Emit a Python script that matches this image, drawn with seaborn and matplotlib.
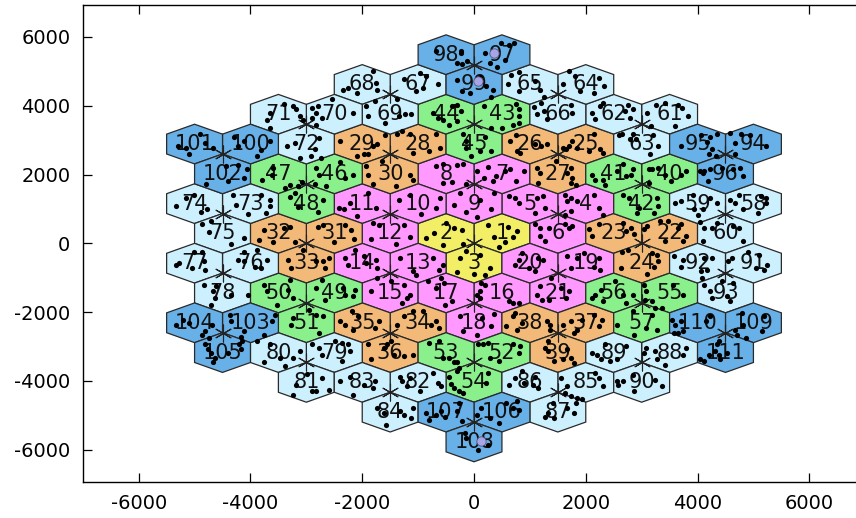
import numpy as np
import pandas as pd
import matplotlib
matplotlib.use("Agg")
import matplotlib.pyplot as plt
import seaborn as sns
from matplotlib.patches import RegularPolygon

# ---------------- data ----------------
# hexagonal lattice: rows (index k, top to bottom), first column index n (x = 500*n)
row_index = [6, 5, 4, 3, 2, 1, 0, -1, -2, -3, -4, -5, -6, -7]
row_first_col = [-1, -4, -7, -10, -9, -10, -9, -10, -9, -10, -9, -6, -3, 0]
row_cells = [
    [98, 97],
    [68, 67, 99, 65, 64],
    [71, 70, 69, 44, 43, 66, 62, 61],
    [101, 100, 72, 29, 28, 45, 26, 25, 63, 95, 94],
    [102, 47, 46, 30, 8, 7, 27, 41, 40, 96],
    [74, 73, 48, 11, 10, 9, 5, 4, 42, 59, 58],
    [75, 32, 31, 12, 2, 1, 6, 23, 22, 60],
    [77, 76, 33, 14, 13, 3, 20, 19, 24, 92, 91],
    [78, 50, 49, 15, 17, 16, 21, 56, 55, 93],
    [104, 103, 51, 35, 34, 18, 38, 37, 57, 110, 109],
    [105, 80, 79, 36, 53, 52, 39, 89, 88, 111],
    [81, 83, 82, 54, 86, 85, 90],
    [84, 107, 106, 87],
    [108],
]
# colour classes by cell number
class_upper = [3, 21, 39, 57, 93, 111]
class_colors = ["#f2ee66", "#ff98ff", "#f2b978", "#8af08c", "#cdf0ff", "#68b0e8"]

# scattered points: (cell, dx, dy) relative to the cell centre
dots = [
    (98, -180, 120), (98, 260, 50), (98, 200, -240), (98, 290, -270), (98, 380, -170), (98, 260, 120),
    (97, -310, 60), (97, -20, 330), (97, 130, 280), (97, 220, 350), (97, -220, -250), (97, -90, -350), (97, 50, -150),
    (99, -310, 140), (99, -220, -200), (99, -80, -250), (99, 100, 230), (99, 340, -160), (99, 310, -350), (99, 220, -50),
    (68, -340, -150), (68, -260, -100), (68, 190, 390), (68, 240, 50), (68, 270, -150), (68, -100, -240),
    (67, -260, 150), (67, 30, 340), (67, 90, -100), (67, -30, -190), (67, 350, 0), (67, 150, 250),
    (69, -430, 230), (69, -400, -60), (69, 150, -60), (69, 270, 0), (69, 380, 0), (69, 120, 430), (69, -280, 400), (69, -100, -250),
    (71, -150, 40), (71, -200, -160), (71, 260, 230), (71, 320, 140), (71, 380, -60), (71, 440, -160), (71, -150, -400), (71, 100, 300),
    (70, -390, 180), (70, -300, 230), (70, -330, 40), (70, -390, -110), (70, -220, -110), (70, 340, 40), (70, -330, -300), (70, -40, 430),
    (101, -300, -60), (101, -150, -100), (101, 190, 40), (101, 330, -100), (101, 100, 300), (101, -100, -300),
    (100, -220, -60), (100, -120, 100), (100, 350, 90), (100, 180, -160), (100, 120, -350), (100, -300, 200),
    (72, -210, 40), (72, -350, -60), (72, 230, 180), (72, 80, -350), (72, 260, -400), (72, -120, -400), (72, 150, -150),
    (29, 270, -10), (29, 190, -60), (29, 40, -300), (29, 100, -300), (29, -100, -350), (29, 400, 250), (29, -400, 100),
    (28, -380, 280), (28, -290, 380), (28, -150, 280), (28, 320, 280), (28, 200, -200), (28, -100, -250), (28, 400, -100),
    (102, 380, -120), (102, 430, 130), (102, 60, 220), (102, 270, 270), (102, 90, -210), (102, -300, -300),
    (47, -120, -20), (47, -90, 170), (47, 200, -310), (47, 120, -410), (47, 350, -350), (47, 420, -250), (47, -290, -170),
    (46, -330, 170), (46, -270, -20), (46, 190, -120), (46, 340, -20), (46, -150, -350), (46, -350, -300), (46, 100, 350),
    (30, -430, 220), (30, -400, -20), (30, -150, 380), (30, 350, -20), (30, 410, -170), (30, -300, -300), (30, 100, -350),
    (8, -180, 220), (8, -50, 300), (8, 200, 270), (8, -60, -260), (8, 100, -250), (8, 350, -300), (8, 300, 300),
    (74, -330, -80), (74, -10, 260), (74, 220, -170), (74, -150, 150), (74, 120, -250),
    (73, -310, 260), (73, 180, 260), (73, 350, 120), (73, 350, -80), (73, -250, -50), (73, 280, -280), (73, -50, -300),
    (48, -300, 200), (48, -200, 300), (48, -150, -100), (48, 200, -250), (48, 300, 100),
    (11, -420, -120), (11, -330, -150), (11, -220, 20), (11, 240, -120), (11, 100, 300), (11, -100, -350),
    (10, -150, 260), (10, -350, 100), (10, 320, -120), (10, 400, 150), (10, 50, -300),
    (75, -370, 260), (75, -200, 350), (75, -250, 50), (75, 380, -130), (75, 150, -300),
    (32, -250, 100), (32, 100, 150), (32, -350, -200), (32, -100, -250), (32, 300, -250), (32, 200, 200),
    (31, -200, 250), (31, -300, 200), (31, 200, 250), (31, 300, 100), (31, 350, -150), (31, 0, -250),
    (12, -300, 300), (12, -200, 250), (12, 250, 250), (12, 350, -100), (12, -350, -150), (12, 100, -300),
    (2, -210, 10), (2, 140, 160), (2, 280, 110), (2, -350, -130), (2, -50, -350), (2, 300, -300), (2, 0, 300),
    (1, -250, 250), (1, -150, -100), (1, 50, -250), (1, 200, -100), (1, 270, 60), (1, -50, -400), (1, 100, 200),
    (3, -250, 150), (3, -150, 350), (3, 100, 250), (3, 280, -150), (3, -300, -250), (3, 0, -300), (3, 200, -350),
    (9, -250, 300), (9, -350, -50), (9, -150, -250), (9, 100, 100), (9, 300, -150), (9, 50, -400), (9, 350, 300),
    (44, -240, 40), (44, -150, -110), (44, -60, -160), (44, 50, -300), (44, 200, 280), (44, 260, 90), (44, 200, -200), (44, 110, 230),
    (45, -200, 300), (45, -150, 100), (45, -150, -100), (45, 200, 200), (45, 300, -200), (45, -50, -350), (45, 100, -200),
    (65, -340, 290), (65, -200, 350), (65, 100, 100), (65, 180, -150), (65, 250, -350), (65, -200, -200), (65, -400, 0),
    (64, -400, 0), (64, -300, 400), (64, -200, 250), (64, -100, -200), (64, 230, 200), (64, 320, -50), (64, 150, -250),
    (43, -330, 230), (43, -200, -400), (43, 0, -400), (43, 250, 300), (43, 300, 150), (43, 300, -50), (43, 300, -250), (43, 200, -300),
    (66, -380, 0), (66, -430, 200), (66, -250, 100), (66, -200, -150), (66, 250, 50), (66, -300, 330), (66, 230, 280),
    (62, -380, 40), (62, -330, -150), (62, -250, 230), (62, -200, 330), (62, 200, 100), (62, 250, 280), (62, 300, -100), (62, 350, 150),
    (61, -400, 40), (61, -250, 280), (61, -80, 330), (61, 150, 280), (61, 220, 180), (61, 330, -60), (61, 100, -350), (61, -330, -350),
    (26, -250, 250), (26, -230, -200), (26, -170, -260), (26, 100, 0), (26, 200, -50), (26, 300, 0), (26, -350, 100),
    (25, -400, -100), (25, -350, -150), (25, -300, -50), (25, -250, 100), (25, -150, -100), (25, 50, -200), (25, 250, -150), (25, 150, 300), (25, 300, -250),
    (63, -400, 250), (63, -350, 300), (63, -200, 150), (63, -150, 300), (63, -100, 150), (63, 200, 250), (63, 300, -50), (63, 150, -300),
    (95, -300, -50), (95, 60, 250), (95, 170, 50), (95, 230, 200), (95, 260, -150), (95, 350, 300), (95, 200, -300), (95, 330, -350),
    (94, -330, 40), (94, -220, 300), (94, -70, 250), (94, 220, -50), (94, -420, 330), (94, -330, -300),
    (7, -450, 80), (7, -330, -120), (7, -160, -220), (7, -100, -70), (7, 50, 80), (7, 150, 130), (7, 390, 80), (7, 250, -220), (7, -250, 200),
    (27, -380, 170), (27, -320, 30), (27, 170, 30), (27, 230, 170), (27, 260, -120), (27, 230, -260), (27, 320, -310), (27, -350, -260), (27, -30, 380),
    (41, -390, -20), (41, -330, -170), (41, -190, -170), (41, -160, -310), (41, 50, 80), (41, 220, -70), (41, 310, -20), (41, 340, 130), (41, 160, 280),
    (40, -370, 130), (40, -310, 130), (40, -200, 170), (40, -80, -20), (40, 210, -20), (40, 300, 80), (40, 30, -210), (40, -370, -260),
    (96, -450, 80), (96, -410, 30), (96, -380, 80), (96, -270, 130), (96, -60, 170), (96, 140, 130), (96, 260, 170), (96, 310, -70), (96, -320, -210),
    (5, -370, 210), (5, -260, 170), (5, -200, 20), (5, 120, 170), (5, 240, 210), (5, 90, -270), (5, 270, -130),
    (4, -380, 260), (4, -330, 70), (4, -260, 170), (4, -150, 70), (4, 140, 260), (4, 230, -130), (4, 310, -320), (4, -260, -220), (4, -380, -320),
    (42, -340, 260), (42, -220, 170), (42, -50, -130), (42, -80, -270), (42, 270, 170), (42, 300, -80), (42, 220, -270),
    (59, -400, 20), (59, -290, 70), (59, -90, 260), (59, -60, -170), (59, 90, -170), (59, 230, 170), (59, 350, 20), (59, 0, -320),
    (58, -420, 120), (58, -330, 20), (58, -250, 260), (58, -190, -170), (58, 130, 210), (58, 220, 170), (58, 220, 20), (58, 80, -270),
    (6, -410, 260), (6, -320, 170), (6, -150, 170), (6, 120, 260), (6, 200, 170), (6, 260, 210), (6, -230, -220), (6, -320, -80),
    (23, -390, -80), (23, -450, 120), (23, -270, 260), (23, 160, 310), (23, 220, 70), (23, 360, -30), (23, 310, 170),
    (22, -450, 120), (22, -400, 210), (22, -170, 360), (22, -20, 360), (22, 150, 170), (22, 210, 260), (22, 300, -80), (22, 240, -220), (22, -80, -220),
    (60, -380, 170), (60, -450, 330), (60, -150, 310), (60, -240, 170), (60, 140, 210), (60, 250, 170), (60, -410, -220), (60, 310, -220),
    (77, -330, -50), (77, -270, 0), (77, -40, -150), (77, 160, 50), (77, 190, -190), (77, -10, 340), (77, 130, 340),
    (76, -230, 100), (76, -110, 50), (76, 90, -100), (76, 180, -150), (76, 300, 100), (76, -110, 340), (76, 120, 390),
    (33, -330, 100), (33, -270, -150), (33, 170, 50), (33, 290, 50), (33, 400, 150), (33, 340, -150), (33, -60, 390),
    (14, -310, 150), (14, -250, -50), (14, 40, 200), (14, 70, 0), (14, 250, 100), (14, 270, -150), (14, -130, 390),
    (13, -320, 150), (13, -90, -240), (13, -30, -340), (13, 260, 150), (13, 380, -190), (13, 440, -50),
    (78, -340, 240), (78, -170, 50), (78, -140, -150), (78, -110, 200), (78, 150, -50), (78, 450, -50), (78, -200, -340),
    (50, -260, 240), (50, -200, 50), (50, -30, -340), (50, 170, 100), (50, 260, -150), (50, 200, 390),
    (49, -330, 150), (49, -220, 390), (49, -160, -190), (49, 160, 150), (49, 190, -50), (49, 340, -100), (49, 370, 100),
    (15, -340, 50), (15, -230, 440), (15, 10, 340), (15, 240, 240), (15, 350, -50), (15, 300, -150), (15, 210, -290),
    (17, -330, 340), (17, -180, 150), (17, -90, 440), (17, -10, -340), (17, 110, -240), (17, -30, 290),
    (104, -330, -60), (104, -210, 90), (104, -100, 0), (104, 190, -250), (104, 130, -350), (104, 250, -450), (104, 310, -60),
    (103, -370, 240), (103, -340, 40), (103, -170, -400), (103, -110, -250), (103, 380, 40), (103, 440, 240), (103, 240, -350),
    (51, -270, -60), (51, -240, 140), (51, 50, 380), (51, 170, 240), (51, 230, -300), (51, 290, 190),
    (35, -400, 40), (35, -310, -60), (35, -160, -200), (35, -80, 190), (35, 220, -160), (35, 300, 40), (35, -190, 340),
    (34, -380, -60), (34, -260, 190), (34, -90, 340), (34, 230, -60), (34, 320, 40), (34, 380, -160), (34, 90, 340),
    (105, -320, 240), (105, -260, 90), (105, -200, -10), (105, -140, -160), (105, 90, -10), (105, 350, 340), (105, 300, 240), (105, 330, 90), (105, -170, -260),
    (80, -380, 340), (80, -260, -260), (80, -150, 240), (80, 30, -160), (80, 120, -400), (80, 260, -160), (80, 380, 40),
    (79, -390, 240), (79, -270, 140), (79, -220, -60), (79, 20, 340), (79, 130, 290), (79, 250, 240), (79, 280, 40), (79, 130, -250),
    (36, -400, 240), (36, -340, -200), (36, -110, 140), (36, -50, 240), (36, 60, -60), (36, 240, -110), (36, 410, -60), (36, 10, 340),
    (53, -300, 280), (53, -120, 330), (53, -60, -160), (53, 50, -160), (53, 140, -260), (53, 200, -260), (53, 230, -450),
    (81, -240, -360), (81, -180, -70), (81, 20, 230), (81, 110, -260), (81, 170, -260), (81, 400, -210), (81, 280, 130),
    (83, -400, 30), (83, -220, 170), (83, -160, -360), (83, 40, -70), (83, 190, -160), (83, 220, 30),
    (82, -320, 170), (82, -290, 30), (82, -200, -120), (82, -150, 130), (82, 260, 270), (82, 350, -20), (82, 410, -120), (82, 30, -260),
    (84, -230, 120), (84, -110, -30), (84, -80, -370), (84, 180, 20), (84, 240, -80), (84, 380, -180), (84, 410, 120),
    (107, -350, -30), (107, -300, -230), (107, -180, -80), (107, -90, 20), (107, -10, -130), (107, 200, 20), (107, 280, -270), (107, 230, 270),
    (20, -260, -50), (20, -200, 100), (20, -20, -150), (20, 150, 150), (20, 240, 100), (20, -140, 300), (20, 90, -240),
    (19, -330, 200), (19, -270, -150), (19, -150, 150), (19, 140, -100), (19, 230, 150), (19, 260, -190), (19, -30, 300),
    (24, -360, 340), (24, -250, 390), (24, 190, 300), (24, 270, 240), (24, 220, -100), (24, 300, 50), (24, -370, -150), (24, 100, -300),
    (92, -430, 200), (92, -290, -100), (92, -260, 100), (92, 120, 150), (92, 260, 150), (92, 60, -240), (92, 170, -200),
    (91, -450, 50), (91, -390, 150), (91, -100, 340), (91, 50, -150), (91, 190, -190), (91, 250, -50), (91, 100, 250),
    (16, -450, -50), (16, -400, 50), (16, -400, -150), (16, -370, 290), (16, -310, 240), (16, 130, -240), (16, 190, -290), (16, 300, -290),
    (21, -320, 190), (21, -380, -50), (21, -290, -190), (21, -150, -190), (21, 150, -150), (21, 200, 50), (21, -120, 440), (21, 60, 150),
    (56, -390, -150), (56, -330, -50), (56, -220, 100), (56, -190, -240), (56, 160, -50), (56, 220, -290), (56, 340, -50), (56, 20, 340),
    (55, -450, 240), (55, -430, 50), (55, -440, -190), (55, -310, -240), (55, -140, -440), (55, 60, 240), (55, 240, -50),
    (93, -420, 450), (93, -380, 240), (93, -270, 50), (93, -240, -150), (93, 20, -100), (93, 80, -240), (93, 140, 290), (93, -60, 340),
    (18, -250, 200), (18, 150, 150), (18, 300, -100), (18, -200, -250), (18, 50, -350), (18, 350, 250),
    (38, -310, 190), (38, -260, 290), (38, -230, -200), (38, -140, 0), (38, 300, 40), (38, 360, -60), (38, 360, -200), (38, -430, -100),
    (37, -410, -60), (37, -270, 40), (37, -150, -200), (37, -60, 90), (37, 140, 240), (37, 290, 90), (37, 230, -100), (37, -210, -300),
    (57, -450, -60), (57, -160, 340), (57, 70, -150), (57, 190, 240), (57, 270, -200), (57, 240, 440), (57, -130, -350),
    (110, -450, 90), (110, -410, -60), (110, -350, -300), (110, -260, -250), (110, -290, 40), (110, 150, 40), (110, 230, 190), (110, -420, -300),
    (109, -330, -200), (109, -300, -350), (109, -210, 290), (109, -130, -450), (109, 160, -250), (109, 190, 190), (109, -180, -60),
    (52, -420, 240), (52, -340, 240), (52, -250, 290), (52, 190, 240), (52, 300, -10), (52, 330, 190), (52, -50, -250), (52, -220, -160),
    (39, -230, 140), (39, -170, 40), (39, -60, -250), (39, 90, -200), (39, 170, 90), (39, 230, -160), (39, 290, -300), (39, -170, 340),
    (89, -390, -10), (89, -300, -60), (89, -220, -200), (89, -70, -250), (89, 50, -200), (89, 220, 190), (89, -160, 240),
    (88, -450, -10), (88, -430, 140), (88, -260, 40), (88, -230, -200), (88, -80, -350), (88, 300, 140), (88, 240, -60),
    (111, -450, -200), (111, -380, -250), (111, -300, -60), (111, -180, 40), (111, -120, -60), (111, -90, -200), (111, 20, -10), (111, -150, 240), (111, -120, 340),
    (54, -450, 170), (54, -300, 330), (54, -360, -170), (54, -270, -260), (54, -190, -310), (54, 220, -20), (54, 250, 270), (54, -420, -60),
    (86, -370, -70), (86, -260, 130), (86, -110, -20), (86, 60, -70), (86, 150, -170), (86, -140, 330), (86, 90, 170),
    (85, -380, -310), (85, -330, -120), (85, -270, -410), (85, -150, -450), (85, -60, -480), (85, 230, 130), (85, 310, -120), (85, 170, 270), (85, -450, 130),
    (90, -450, 30), (90, -420, -70), (90, -340, 30), (90, 240, 80), (90, 360, -120), (90, -160, 220), (90, -130, -260),
    (106, -450, -80), (106, -370, 120), (106, 70, 270), (106, 190, 120), (106, 300, 70), (106, 270, 310), (106, -50, -330), (106, -220, -170),
    (87, -230, -130), (87, -170, -30), (87, -60, -170), (87, 170, 120), (87, 290, -30), (87, 320, 270), (87, -90, 270),
    (108, -160, 270), (108, 100, 40), (108, 250, -80), (108, 80, -230), (108, -150, 100),
]
# highlighted (lavender) points
special_cells = [97, 99, 108]
special_dx = [-150, 80, 130]
special_dy = [60, 90, 20]

# ---------------- geometry from lattice ----------------
PITCH = 1000.0
R = PITCH / np.sqrt(3)
recs = []
for k, n0, ids in zip(row_index, row_first_col, row_cells):
    for j, cid in enumerate(ids):
        n = n0 + 2 * j
        recs.append((cid, n * PITCH / 2, k * 1.5 * R + R / 2))
cells = pd.DataFrame(recs, columns=["cell", "x", "y"]).sort_values("cell")
cells["cls"] = np.searchsorted(class_upper, cells["cell"].values)
cells["color"] = [class_colors[c] for c in cells["cls"]]
cells["trip"] = (cells["cell"] - 1) // 3
stars = cells.groupby("trip")[["x", "y"]].mean()

ctr = cells.set_index("cell")
dd = pd.DataFrame(dots, columns=["cell", "dx", "dy"])
dd["x"] = ctr.loc[dd["cell"], "x"].values + dd["dx"]
dd["y"] = ctr.loc[dd["cell"], "y"].values + dd["dy"]
sp = pd.DataFrame({"cell": special_cells, "dx": special_dx, "dy": special_dy})
sp["x"] = ctr.loc[sp["cell"], "x"].values + sp["dx"]
sp["y"] = ctr.loc[sp["cell"], "y"].values + sp["dy"]

# ---------------- plot ----------------
sns.set_style("ticks")
plt.rcParams["font.family"] = ["DejaVu Sans"]
plt.rcParams["axes.unicode_minus"] = False
fig = plt.figure(figsize=(8.56, 5.18), dpi=100)
ax = fig.add_axes([82.8 / 856, (518 - 481.7) / 518, (865.2 - 82.8) / 856, (481.7 - 5) / 518])

for _, r in cells.iterrows():
    ax.add_patch(RegularPolygon((r.x, r.y), numVertices=6, radius=R, orientation=0,
                                facecolor=r.color, edgecolor="#2a2a2a", linewidth=0.9, zorder=1))

sns.scatterplot(data=stars, x="x", y="y", marker=(6, 2, 0), s=150, color="#222222",
                linewidth=0.8, ax=ax, zorder=2, legend=False)

for _, r in cells.iterrows():
    ax.text(r.x, r.y, str(int(r.cell)), ha="center", va="center", fontsize=15,
            color="#111111", zorder=3)

sns.scatterplot(data=dd, x="x", y="y", color="black", s=14, linewidth=0, ax=ax, zorder=4, legend=False)
sns.scatterplot(data=sp, x="x", y="y", color="#a8a4e8", s=45, edgecolor="#555577", linewidth=0.6,
                ax=ax, zorder=5, legend=False)

ax.set_xlim(-7000, 7000)
ax.set_ylim(-6930, 6930)
ax.set_xticks(np.arange(-6000, 6001, 2000))
ax.set_yticks(np.arange(-6000, 6001, 2000))
ax.set_xlabel("")
ax.set_ylabel("")
ax.tick_params(direction="in", length=6.5, width=0.9, top=True, right=True,
               labelsize=14, colors="black", pad=9)
for s in ax.spines.values():
    s.set_linewidth(1.0)
    s.set_color("black")

fig.savefig("out.png", dpi=100)
